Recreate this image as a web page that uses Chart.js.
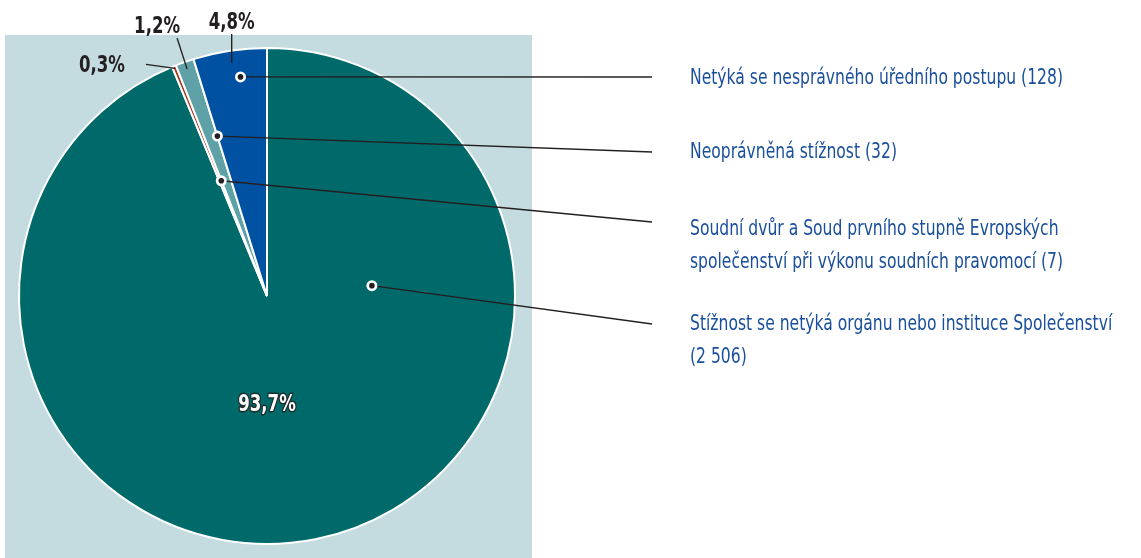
<!DOCTYPE html>
<html lang="cs">
<head>
  <meta charset="UTF-8">
  <title>Stížnosti</title>
  <script src="https://cdn.jsdelivr.net/npm/chart.js@4.4.0/dist/chart.umd.min.js"></script>
  <style>
    body { margin: 0; background: #fff; }
    #wrap { width: 1141px; height: 558px; position: relative; }
  </style>
</head>
<body>
  <div id="wrap"><canvas id="pie" width="1141" height="558"></canvas></div>
  <script>
    // clockwise from 12 o'clock
    const categories = [
      ['Stížnost se netýká orgánu nebo instituce Společenství', '(2 506)'],
      ['Soudní dvůr a Soud prvního stupně Evropských', 'společenství při výkonu soudních pravomocí (7)'],
      ['Neoprávněná stížnost (32)'],
      ['Netýká se nesprávného úředního postupu (128)']
    ];
    const counts = [2506, 7, 32, 128];
    const percentLabels = ['93,7%', '0,3%', '1,2%', '4,8%'];

    const colors = ['#006a6b', '#a33b22', '#5ea1a6', '#0051a2'];
    const FONT = "'DejaVu Sans Condensed', 'DejaVu Sans', sans-serif";

    // dot anchor inside slice (fraction of the slice angle, fraction of radius),
    // where the leader line ends on the right and where the text starts
    const callouts = [
      { a: 0.25, r: 0.425, endY: 324, textY: 330 },
      { a: 0.9,  r: 0.5,   endY: 222, textY: 235 },
      { a: 1.0,  r: 0.675, endY: 152, textY: 158 },
      { a: 0.6,  r: 0.89,  endY: 77,  textY: 84 }
    ];
    // outside percent labels: tick from slice edge by (dx,dy), text relative to tick end
    const pctPos = [
      null,
      { r: 0.99, dx: -29, dy: -4,  tx: -21, ty: 8,  align: 'right' },
      { r: 0.97, dx: -10, dy: -31, tx: -20, ty: -5, align: 'center' },
      { r: 0.95, dx: 0,   dy: -29, tx: 0,   ty: -5, align: 'center' }
    ];

    // draw text squeezed horizontally (the original uses a condensed face)
    function condensed(ctx, text, x, y, align, sx, stroke) {
      ctx.save();
      ctx.translate(x, y);
      ctx.scale(sx, 1);
      ctx.textAlign = align;
      if (stroke) ctx.strokeText(text, 0, 0);
      ctx.fillText(text, 0, 0);
      ctx.restore();
    }

    const decor = {
      id: 'decor',
      beforeDraw(chart) {
        const ctx = chart.ctx;
        ctx.save();
        ctx.fillStyle = '#c4dbe0';
        ctx.fillRect(5, 35, 527, 523);
        ctx.restore();
      },
      afterDraw(chart) {
        const ctx = chart.ctx;
        const arcs = chart.getDatasetMeta(0).data;
        ctx.save();
        ctx.textBaseline = 'alphabetic';

        ctx.font = '22px ' + FONT;
        const legendSx = 373 / ctx.measureText(categories[3][0]).width;
        ctx.font = 'bold 23px ' + FONT;
        const pctSx = 46 / ctx.measureText('4,8%').width;

        arcs.forEach((arc, i) => {
          const p = arc.getProps(['x', 'y', 'startAngle', 'endAngle', 'outerRadius'], true);
          const c = callouts[i];
          const ang = p.startAngle + (p.endAngle - p.startAngle) * c.a;
          const dx = p.x + Math.cos(ang) * p.outerRadius * c.r;
          const dy = p.y + Math.sin(ang) * p.outerRadius * c.r;

          // leader line
          ctx.strokeStyle = '#231f20';
          ctx.lineWidth = 1.4;
          ctx.beginPath();
          ctx.moveTo(dx, dy);
          ctx.lineTo(652, c.endY);
          ctx.stroke();

          // dot
          ctx.fillStyle = '#fff';
          ctx.beginPath(); ctx.arc(dx, dy, 5.5, 0, Math.PI * 2); ctx.fill();
          ctx.fillStyle = '#231f20';
          ctx.beginPath(); ctx.arc(dx, dy, 2.8, 0, Math.PI * 2); ctx.fill();

          // legend text
          ctx.fillStyle = '#1a4f9c';
          ctx.font = '22px ' + FONT;
          categories[i].forEach((line, k) => condensed(ctx, line, 690, c.textY + k * 33, 'left', legendSx));

          // percent labels
          const pp = pctPos[i];
          ctx.font = 'bold 23px ' + FONT;
          if (pp) {
            const mid = (p.startAngle + p.endAngle) / 2;
            const sx = p.x + Math.cos(mid) * p.outerRadius * pp.r;
            const sy = p.y + Math.sin(mid) * p.outerRadius * pp.r;
            const ex = sx + pp.dx, ey = sy + pp.dy;
            ctx.strokeStyle = '#231f20';
            ctx.lineWidth = 1.4;
            ctx.beginPath(); ctx.moveTo(sx, sy); ctx.lineTo(ex, ey); ctx.stroke();
            ctx.fillStyle = '#231f20';
            condensed(ctx, percentLabels[i], ex + pp.tx, ey + pp.ty, pp.align, pctSx);
          } else {
            ctx.lineWidth = 3;
            ctx.strokeStyle = '#1d2b2b';
            ctx.lineJoin = 'round';
            ctx.fillStyle = '#fff';
            condensed(ctx, percentLabels[i], p.x, 411, 'center', pctSx, true);
          }
        });
        ctx.restore();
      }
    };

    new Chart(document.getElementById('pie'), {
      type: 'pie',
      data: {
        labels: categories.map(c => c.join(' ')),
        datasets: [{
          data: counts,
          backgroundColor: colors,
          borderColor: '#ffffff',
          borderWidth: 2
        }]
      },
      options: {
        responsive: false,
        animation: false,
        layout: { padding: { left: 18, top: 47, right: 625, bottom: 13 } },
        plugins: { legend: { display: false }, tooltip: { enabled: false } }
      },
      plugins: [decor]
    });
  </script>
</body>
</html>
